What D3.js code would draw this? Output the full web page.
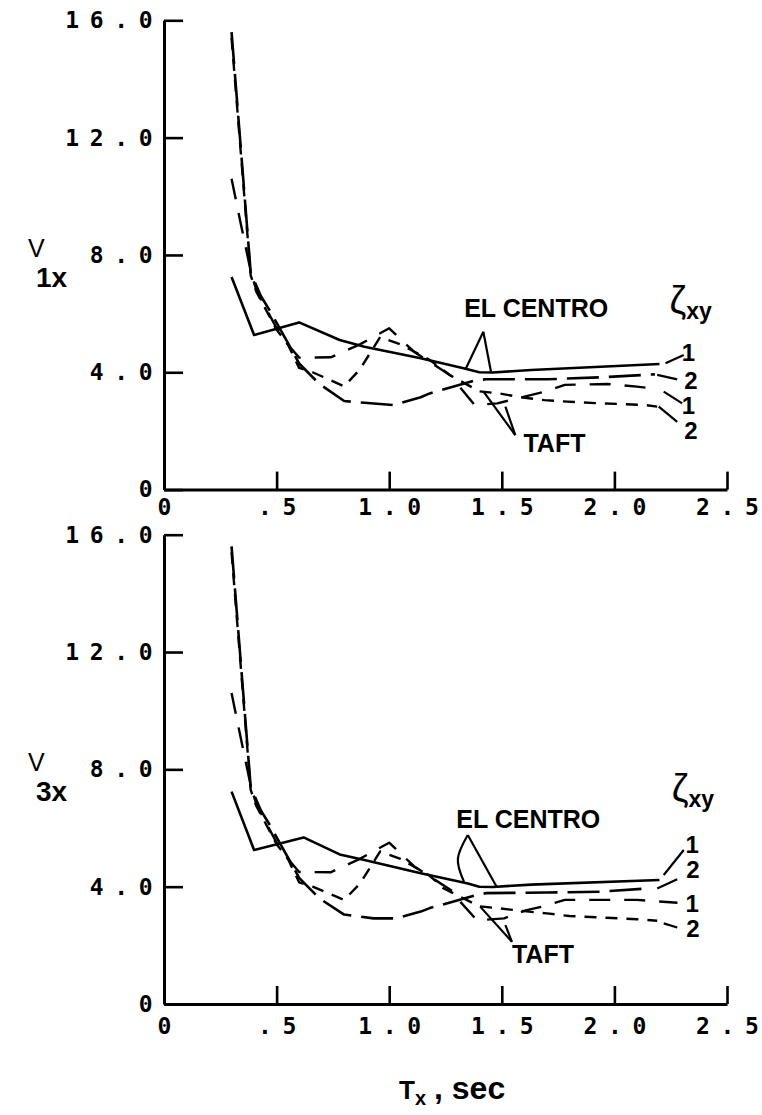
<!DOCTYPE html>
<html><head><meta charset="utf-8">
<script src="https://cdn.jsdelivr.net/npm/d3@7"></script>
<style>body{margin:0;background:#fff}</style>
</head><body>
<svg id="chart" width="762" height="1115" style="background:#fff"></svg>
<script>
// ---------- data ----------
const xTicks = [0, 0.5, 1.0, 1.5, 2.0, 2.5];
const xTickLabels = ["0", ".5", "1.0", "1.5", "2.0", "2.5"];
const yTicks = [0, 4, 8, 12, 16];
const yTickLabels = ["0", "4.0", "8.0", "12.0", "16.0"];
const seriesNames = ["EL CENTRO ζxy=1", "EL CENTRO ζxy=2", "TAFT ζxy=1", "TAFT ζxy=2"];

// top panel  (v1x)
const top_elCentro1 = [[0.3,7.25],[0.4,5.27],[0.6,5.7],[0.78,5.1],[0.89,4.87],[1.14,4.48],[1.33,4.14],[1.4,4.0],[1.46,3.99],[1.63,4.08],[2.2,4.28]];
const top_elCentro2 = [[0.3,15.6],[0.385,7.4],[0.43,6.6],[0.47,6.1],[0.55,5.0],[0.6,4.3],[0.69,3.6],[0.8,3.02],[0.89,2.96],[1.02,2.88],[1.14,3.15],[1.18,3.28],[1.38,3.72],[1.43,3.76],[1.7,3.76],[1.94,3.83],[2.18,3.93]];
const top_taft1 = [[0.3,10.6],[0.34,9.1],[0.385,7.45],[0.41,6.8],[0.5,5.5],[0.55,4.95],[0.6,4.5],[0.74,4.51],[0.87,4.95],[1.0,5.5],[1.11,4.7],[1.2,4.25],[1.28,3.85],[1.3,3.62],[1.38,2.88],[1.48,2.94],[1.69,3.34],[1.78,3.57],[1.97,3.6],[2.1,3.51],[2.2,3.42]];
const top_taft2 = [[0.3,15.4],[0.385,7.3],[0.41,6.75],[0.5,5.45],[0.55,4.95],[0.6,4.15],[0.66,4.0],[0.8,3.52],[0.87,4.1],[0.96,5.2],[1.05,4.95],[1.18,4.42],[1.27,3.9],[1.4,3.35],[1.49,3.28],[1.58,3.15],[1.69,3.05],[1.79,3.0],[1.94,2.94],[2.03,2.92],[2.14,2.88],[2.19,2.83]];

// bottom panel (v3x)
const bot_elCentro1 = [[0.3,7.24],[0.4,5.25],[0.62,5.68],[0.78,5.1],[0.89,4.91],[1.14,4.46],[1.345,4.12],[1.4,4.0],[1.46,3.99],[1.63,4.07],[2.2,4.23]];
const bot_elCentro2 = [[0.3,15.6],[0.385,7.4],[0.43,6.6],[0.47,6.1],[0.55,5.0],[0.6,4.3],[0.69,3.6],[0.8,3.05],[0.93,2.92],[1.03,2.92],[1.14,3.15],[1.18,3.27],[1.39,3.72],[1.43,3.78],[1.7,3.8],[1.94,3.83],[2.15,3.94]];
const bot_taft1 = [[0.3,10.6],[0.34,9.1],[0.385,7.45],[0.41,6.8],[0.5,5.5],[0.55,4.95],[0.6,4.5],[0.74,4.49],[0.87,4.95],[1.0,5.5],[1.11,4.7],[1.2,4.25],[1.28,3.85],[1.3,3.62],[1.39,2.85],[1.51,2.92],[1.61,3.2],[1.69,3.34],[1.78,3.55],[2.1,3.55],[2.28,3.45]];
const bot_taft2 = [[0.3,15.4],[0.385,7.3],[0.41,6.75],[0.5,5.45],[0.55,4.95],[0.6,4.15],[0.66,4.0],[0.8,3.55],[0.87,4.1],[0.96,5.2],[1.05,4.95],[1.18,4.37],[1.24,3.95],[1.4,3.33],[1.49,3.26],[1.58,3.18],[1.7,3.09],[1.8,3.0],[1.99,2.93],[2.1,2.89],[2.19,2.84]];

// annotation anchors (data units)
const top_endLabels = ["1","2","1","2"];
const top_endLabelPos = [[2.329,4.675],[2.34,3.74],[2.329,2.88],[2.34,2.03]];
const top_endLeaders = [[[2.227,4.31],[2.308,4.59]],[[2.19,3.91],[2.279,3.76]],[[2.219,3.34],[2.301,2.94]],[[2.197,2.83],[2.279,2.31]]];
const top_elCentroPos = [1.333,5.88];
const top_elCentroLeaders = [[[1.418,5.38],[1.341,4.14]],[[1.418,5.38],[1.452,4.02]]];
const top_taftPos = [1.596,1.28];
const top_taftLeaders = [[[1.56,1.86],[1.419,3.34]],[[1.56,1.86],[1.516,2.83]]];
const top_zetaPos = [2.245,5.88];

const bot_endLabels = ["1","2","1","2"];
const bot_endLabelPos = [[2.345,5.45],[2.349,4.6],[2.345,3.43],[2.349,2.57]];
const bot_endLeaders = [[[2.219,4.40],[2.308,5.25]],[[2.19,3.94],[2.279,4.25]],[[2.219,2.75],[2.279,2.61]]];
const bot_elCentroPos = [1.298,5.99];
const bot_elCentroLeaders = [[[1.349,5.76],[1.305,4.95],[1.332,4.17]],[[1.349,5.76],[1.477,4.0]]];
const bot_taftPos = [1.545,1.40];
const bot_taftLeaders = [[[1.545,2.12],[1.404,3.32]],[[1.545,2.12],[1.516,2.69]]];
const bot_zetaPos = [2.255,6.78];

// ---------- drawing ----------
const svg = d3.select("#chart");
const styles = [
  {dash: null, w: 2.6},
  {dash: "32,10", w: 2.6},
  {dash: "21,14", w: 2.4},
  {dash: "12,9", w: 2.4}
];
const panels = [
  {yBottom: 489.6, yTop: 20.3, sub: "1x",
   series: [top_elCentro1, top_elCentro2, top_taft1, top_taft2],
   endLabels: top_endLabels, endLabelPos: top_endLabelPos, endLeaders: top_endLeaders,
   ecPos: top_elCentroPos, ecLeaders: top_elCentroLeaders,
   taftPos: top_taftPos, taftLeaders: top_taftLeaders, zetaPos: top_zetaPos, xLabelGap: 9},
  {yBottom: 1004, yTop: 534.7, sub: "3x",
   series: [bot_elCentro1, bot_elCentro2, bot_taft1, bot_taft2],
   endLabels: bot_endLabels, endLabelPos: bot_endLabelPos, endLeaders: bot_endLeaders,
   ecPos: bot_elCentroPos, ecLeaders: bot_elCentroLeaders,
   taftPos: bot_taftPos, taftLeaders: bot_taftLeaders, zetaPos: bot_zetaPos, xLabelGap: 14}
];

const x = d3.scaleLinear().domain([0, 2.5]).range([164, 727]);
const tickFont = "'DejaVu Sans Mono', 'Liberation Mono', monospace";
const textFont = "'Liberation Sans', Arial, sans-serif";
const pitch = 24.5;

function spaced(sel, align, shift) {
  sel.each(function() {
    const t = d3.select(this);
    const s = t.text();
    t.text(null).attr("text-anchor", "middle");
    const n = s.length;
    for (let i = 0; i < n; i++) {
      let off;
      if (align === "end") off = -(n - 1 - i) * pitch;
      else off = (i - (n - 1) / 2) * pitch;
      t.append("tspan").attr("x", off + shift).text(s[i]);
    }
  });
}

panels.forEach(p => {
  const y = d3.scaleLinear().domain([0, 16]).range([p.yBottom, p.yTop]);
  const g = svg.append("g");

  const gx = g.append("g").attr("transform", `translate(0,${y(0)})`)
    .call(d3.axisBottom(x).tickValues(xTicks).tickSizeInner(-18).tickSizeOuter(0)
      .tickPadding(p.xLabelGap).tickFormat((d, i) => xTickLabels[i]));
  const gy = g.append("g").attr("transform", `translate(${x(0)},0)`)
    .call(d3.axisLeft(y).tickValues(yTicks).tickSizeInner(-19).tickSizeOuter(0)
      .tickPadding(18).tickFormat((d, i) => yTickLabels[i]));

  [gx, gy].forEach(a => {
    a.select(".domain").attr("stroke", "#000").attr("stroke-width", 3);
    a.selectAll(".tick line").attr("stroke", "#000").attr("stroke-width", 2.6);
    a.selectAll(".tick text").attr("fill", "#000")
      .style("font-family", tickFont).style("font-size", "23px").style("font-weight", "bold");
  });
  gx.selectAll(".tick text").call(spaced, "middle", 0);
  gy.selectAll(".tick text").call(spaced, "end", -18.3);

  // curves
  const line = d3.line().x(d => x(d[0])).y(d => y(d[1])).curve(d3.curveLinear);
  p.series.forEach((s, i) => {
    g.append("path").datum(s).attr("d", line)
      .attr("fill", "none").attr("stroke", "#000")
      .attr("stroke-width", styles[i].w)
      .attr("stroke-linejoin", "round")
      .attr("stroke-dasharray", styles[i].dash)
      .attr("aria-label", seriesNames[i]);
  });

  // leaders
  const lead = d3.line().x(d => x(d[0])).y(d => y(d[1]));
  const leadCurve = d3.line().x(d => x(d[0])).y(d => y(d[1])).curve(d3.curveNatural);
  p.endLeaders.concat(p.taftLeaders).forEach(l => {
    g.append("path").attr("d", lead(l)).attr("fill", "none").attr("stroke", "#000").attr("stroke-width", 2.2);
  });
  p.ecLeaders.forEach(l => {
    g.append("path").attr("d", (l.length > 2 ? leadCurve : lead)(l)).attr("fill", "none")
      .attr("stroke", "#000").attr("stroke-width", 2.2);
  });

  // end labels
  p.endLabels.forEach((t, i) => {
    g.append("text").attr("x", x(p.endLabelPos[i][0])).attr("y", y(p.endLabelPos[i][1]))
      .attr("dy", "0.36em").attr("text-anchor", "middle")
      .style("font-family", textFont).style("font-size", "24px").style("font-weight", "bold")
      .text(t);
  });

  g.append("text").attr("x", x(p.ecPos[0])).attr("y", y(p.ecPos[1]))
    .style("font-family", textFont).style("font-size", "25px").style("font-weight", "bold")
    .text("EL CENTRO");
  g.append("text").attr("x", x(p.taftPos[0])).attr("y", y(p.taftPos[1]))
    .style("font-family", textFont).style("font-size", "25px").style("font-weight", "bold")
    .text("TAFT");

  const zt = g.append("text").attr("x", x(p.zetaPos[0])).attr("y", y(p.zetaPos[1]) - 4)
    .style("font-family", textFont);
  zt.append("tspan").style("font-size", "38px").text("ζ");
  zt.append("tspan").attr("dy", 6).style("font-size", "23px").style("font-weight", "bold").text("xy");

  const y8 = y(8);
  g.append("text").attr("x", 28).attr("y", y8 + 2)
    .style("font-family", textFont).style("font-size", "25px").text("V");
  g.append("text").attr("x", 36).attr("y", y8 + 32)
    .style("font-family", textFont).style("font-size", "28px").style("font-weight", "bold").text(p.sub);
});

const xt = svg.append("text").attr("x", 399).attr("y", 1099).style("font-family", textFont).style("font-weight", "bold");
xt.append("tspan").style("font-size", "26px").text("T");
xt.append("tspan").attr("dy", 6).style("font-size", "20px").text("x");
xt.append("tspan").attr("dy", -6).attr("dx", 8).style("font-size", "32px").text(", sec");
</script>
</body></html>
